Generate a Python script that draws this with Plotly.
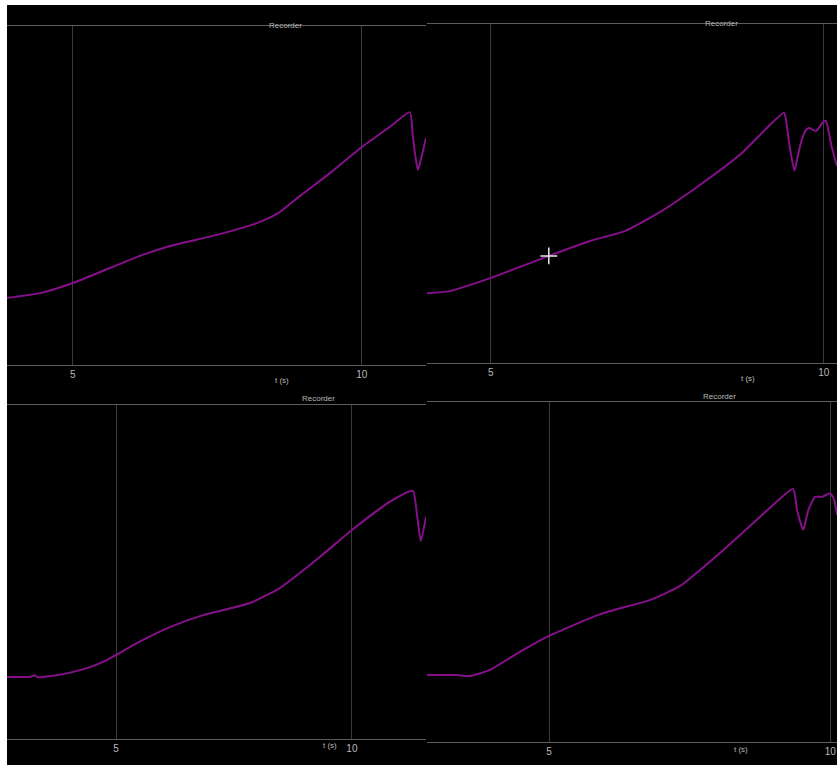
import plotly.graph_objects as go

# ---- data (time in s, signal in arbitrary units 0..100) ----
tl_t = [3.86, 4.43, 5.0, 5.64, 6.16, 6.68, 7.54, 8.24, 8.58, 8.93, 9.45, 10.0, 10.48, 10.83, 10.88, 10.93, 10.97, 11.04, 11.11]
tl_y = [19.8, 21.2, 24.2, 28.6, 32.2, 35.1, 38.6, 42.2, 45.1, 49.9, 56.6, 64.3, 70.2, 74.6, 67.8, 61.1, 57.5, 61.9, 67.0]

tr_t = [4.04, 4.38, 5.0, 5.87, 6.49, 7.01, 7.54, 8.14, 8.74, 9.404, 9.44, 9.49, 9.56, 9.61, 9.67, 9.74, 9.79, 9.84, 9.89, 9.98, 10.03, 10.06, 10.12, 10.2]
tr_y = [20.6, 21.2, 25.1, 31.6, 36.0, 38.9, 44.5, 52.5, 61.4, 73.8, 70.8, 63.8, 56.7, 60.9, 65.8, 68.9, 69.3, 68.7, 68.5, 70.8, 71.5, 69.7, 63.8, 58.1]

bl_t = [2.69, 3.18, 3.28, 3.34, 3.52, 3.70, 3.91, 4.40, 4.76, 4.98, 5.51, 6.14, 6.78, 7.84, 8.47, 9.32, 10.0, 10.8, 11.29, 11.38, 11.46, 11.57]
bl_y = [18.6, 18.6, 19.1, 18.5, 18.7, 19.0, 19.5, 21.3, 23.3, 25.0, 29.2, 33.5, 36.8, 40.7, 45.2, 54.5, 62.6, 71.0, 74.3, 67.1, 59.3, 66.5]

br_t = [2.83, 3.33, 3.59, 3.95, 4.48, 5.0, 5.91, 6.80, 7.33, 8.04, 8.75, 9.34, 9.41, 9.52, 9.61, 9.73, 9.86, 10.0, 10.07, 10.12]
br_y = [19.7, 19.7, 19.4, 21.2, 26.5, 31.2, 37.6, 41.8, 45.9, 55.6, 66.2, 74.4, 68.2, 62.4, 68.2, 72.1, 72.1, 73.2, 71.2, 66.8]

cursor_t = [5.87]
cursor_y = [31.6]

panel_title = "Recorder"
x_label = "t (s)"
tick_vals = [5, 10]
tick_text = ["5", "10"]

W, H = 837, 765

def px(x):
    return x / W

def py(y):
    return 1 - y / H

LINE = "#86108a"
GRID = "#3a3a3a"
AXIS = "#5c5c5c"
TXT = "#b8b8b8"
FONT = "Liberation Sans"

fig = go.Figure()

panels = [
    # (t, y, axis id, x domain px, y domain px (top,bottom), range, title pos, label pos)
    (tl_t, tl_y, "", (7, 426), (26, 365), [3.86, 11.11], (267, 19), (282, 380)),
    (tr_t, tr_y, "2", (427, 837), (24, 363), [4.04, 10.2], (740, 17), (757, 378)),
    (bl_t, bl_y, "3", (7, 426), (405, 739), [2.69, 11.57], (318, 398), (330, 752)),
    (br_t, br_y, "4", (427, 837), (402, 742), [2.83, 10.12], (738, 396), (750, 756)),
]

layout = dict(
    width=W, height=H,
    margin=dict(l=0, r=0, t=0, b=0),
    paper_bgcolor="white",
    plot_bgcolor="black",
    showlegend=False,
    font=dict(family=FONT, color=TXT, size=10),
    shapes=[dict(type="rect", xref="paper", yref="paper", x0=px(7), x1=1, y0=0, y1=py(5),
                 fillcolor="black", line=dict(width=0), layer="below")],
    annotations=[],
)

for t, y, ax, xd, yd, rng, tpos, lpos in panels:
    fig.add_trace(go.Scatter(x=t, y=y, mode="lines", line=dict(color=LINE, width=2, shape="spline", smoothing=0.5),
                             xaxis="x" + ax, yaxis="y" + ax, hoverinfo="skip"))
    layout["xaxis" + ax] = dict(
        domain=[px(xd[0]), px(xd[1])], anchor="y" + ax, range=rng,
        tickvals=tick_vals, ticktext=tick_text, showgrid=True, gridcolor=GRID, gridwidth=1,
        showline=True, linecolor=AXIS, linewidth=1, mirror=True, ticks="", zeroline=False,
        tickfont=dict(size=10, color=TXT, family=FONT),
    )
    layout["yaxis" + ax] = dict(
        domain=[py(yd[1]), py(yd[0])], anchor="x" + ax, range=[0, 100],
        showgrid=False, showticklabels=False, zeroline=False, showline=False, ticks="",
    )
    layout["annotations"].append(dict(text=panel_title, x=px(tpos[0]), y=py(tpos[1]), xref="paper", yref="paper",
                                      showarrow=False, font=dict(size=8, color=TXT, family=FONT)))
    layout["annotations"].append(dict(text=x_label, x=px(lpos[0]), y=py(lpos[1]), xref="paper", yref="paper",
                                      showarrow=False, font=dict(size=8, color=TXT, family=FONT)))

fig.add_trace(go.Scatter(x=cursor_t, y=cursor_y, mode="markers", xaxis="x2", yaxis="y2",
                         marker=dict(symbol="cross-thin", size=12, line=dict(color="#e8e8e8", width=1.5)),
                         hoverinfo="skip"))

fig.update_layout(**layout)
fig.write_html("out.html", config={"displayModeBar": False},
               post_script="document.body.style.margin='0';document.body.style.overflow='hidden';")
